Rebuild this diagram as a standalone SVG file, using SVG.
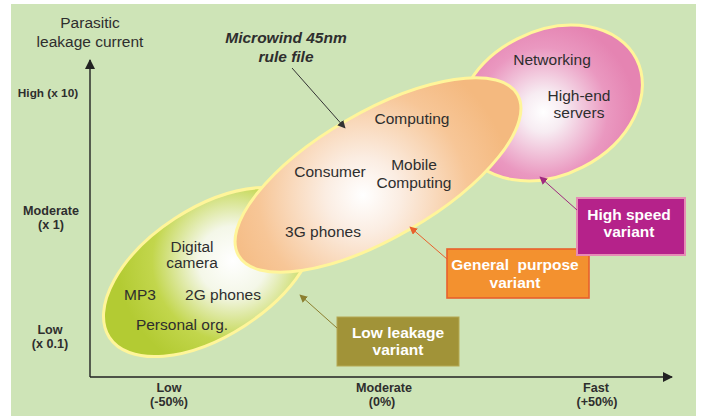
<svg xmlns="http://www.w3.org/2000/svg" width="703" height="416" viewBox="0 0 703 416">
<defs>
<style>
.t{font-family:"Liberation Sans",Arial,sans-serif;font-size:15.5px;fill:#2e2e2e;text-anchor:middle}
.ax{font-family:"Liberation Sans",Arial,sans-serif;font-size:12.6px;font-weight:bold;fill:#2e2e2e;text-anchor:middle}
.bx{font-family:"Liberation Sans",Arial,sans-serif;font-size:15.5px;font-weight:bold;fill:#ffffff;text-anchor:middle}
.el{stroke:#FFF59A;stroke-width:3}
</style>
<radialGradient id="gG" gradientUnits="userSpaceOnUse" cx="235" cy="275" r="115">
<stop offset="0" stop-color="#ffffff"/><stop offset="0.3" stop-color="#f4f7e8"/><stop offset="0.7" stop-color="#c2d64c"/><stop offset="1" stop-color="#b3cb33"/>
</radialGradient>
<radialGradient id="gO" gradientUnits="userSpaceOnUse" cx="355" cy="185" r="150">
<stop offset="0" stop-color="#ffffff"/><stop offset="0.25" stop-color="#fbede2"/><stop offset="0.7" stop-color="#f7c697"/><stop offset="1" stop-color="#f4b97f"/>
</radialGradient>
<radialGradient id="gP" gradientUnits="userSpaceOnUse" cx="540" cy="108" r="92">
<stop offset="0" stop-color="#ffffff"/><stop offset="0.22" stop-color="#f7ecf2"/><stop offset="0.7" stop-color="#ea98c0"/><stop offset="1" stop-color="#e584b2"/>
</radialGradient>
<marker id="ahK" viewBox="0 0 10 10" refX="9" refY="5" markerWidth="8" markerHeight="8" markerUnits="userSpaceOnUse" orient="auto"><path d="M0,0 L10,5 L0,10 z" fill="#333"/></marker>
<marker id="ahA" viewBox="0 0 10 10" refX="9" refY="5" markerWidth="10" markerHeight="10" markerUnits="userSpaceOnUse" orient="auto"><path d="M0,0 L10,5 L0,10 z" fill="#222"/></marker>
<marker id="ahOl" viewBox="0 0 10 10" refX="9" refY="5" markerWidth="8" markerHeight="8" markerUnits="userSpaceOnUse" orient="auto"><path d="M0,0 L10,5 L0,10 z" fill="#8c7f30"/></marker>
<marker id="ahOr" viewBox="0 0 10 10" refX="9" refY="5" markerWidth="8" markerHeight="8" markerUnits="userSpaceOnUse" orient="auto"><path d="M0,0 L10,5 L0,10 z" fill="#e8602c"/></marker>
<marker id="ahPu" viewBox="0 0 10 10" refX="9" refY="5" markerWidth="8" markerHeight="8" markerUnits="userSpaceOnUse" orient="auto"><path d="M0,0 L10,5 L0,10 z" fill="#a0297f"/></marker>
</defs>
<rect x="11" y="4" width="685" height="412" fill="#CEE4B7"/>

<g id="axes">
<line x1="90" y1="377" x2="90" y2="60" stroke="#222" stroke-width="1.4" marker-end="url(#ahA)"/>
<line x1="90" y1="377" x2="672" y2="377" stroke="#222" stroke-width="1.4" marker-end="url(#ahA)"/>
<text class="t" x="90" y="28">Parasitic</text>
<text class="t" x="90" y="47">leakage current</text>
<text class="ax" x="48" y="97" style="font-size:11.8px">High (x 10)</text>
<text class="ax" x="51" y="215">Moderate</text>
<text class="ax" x="51" y="229">(x 1)</text>
<text class="ax" x="50" y="334">Low</text>
<text class="ax" x="50" y="348">(x 0.1)</text>
<text class="ax" x="169" y="392">Low</text>
<text class="ax" x="169" y="406">(-50%)</text>
<text class="ax" x="384" y="392">Moderate</text>
<text class="ax" x="382" y="406">(0%)</text>
<text class="ax" x="596" y="392">Fast</text>
<text class="ax" x="597" y="406">(+50%)</text>
</g>

<g id="high-speed">
<ellipse class="el" cx="550" cy="103" rx="97" ry="72" transform="rotate(-27 550 103)" fill="url(#gP)"/>
<text class="t" x="552" y="65">Networking</text>
<text class="t" x="579" y="101">High-end</text>
<text class="t" x="579" y="118">servers</text>
</g>

<g id="low-leakage">
<ellipse class="el" cx="210" cy="272" rx="120" ry="64" transform="rotate(-33 210 272)" fill="url(#gG)"/>
<text class="t" x="192" y="252">Digital</text>
<text class="t" x="192" y="268">camera</text>
<text class="t" x="140" y="300">MP3</text>
<text class="t" x="223" y="300">2G phones</text>
<text class="t" x="182" y="330">Personal org.</text>
</g>

<g id="general-purpose">
<ellipse class="el" cx="378" cy="175" rx="161" ry="63" transform="rotate(-30 378 175)" fill="url(#gO)"/>
<text class="t" x="412" y="124">Computing</text>
<text class="t" x="330" y="177">Consumer</text>
<text class="t" x="414" y="170">Mobile</text>
<text class="t" x="414" y="188">Computing</text>
<text class="t" x="323" y="237">3G phones</text>
</g>

<g id="microwind-label">
<text class="t" x="286" y="43" style="font-weight:bold;font-style:italic">Microwind 45nm</text>
<text class="t" x="286" y="62" style="font-weight:bold;font-style:italic">rule file</text>
</g>

<g id="box-low">
<rect x="337" y="317" width="122" height="49" fill="#A19338" stroke="#b5a852" stroke-width="1"/>
<text class="bx" x="398" y="338">Low leakage</text>
<text class="bx" x="398" y="355">variant</text>
</g>

<g id="box-general">
<rect x="447" y="249" width="142" height="49" fill="#F3912F" stroke="#E8602C" stroke-width="1.6"/>
<text class="bx" x="515" y="270" xml:space="preserve">General  purpose</text>
<text class="bx" x="515" y="288">variant</text>
</g>

<g id="box-high">
<rect x="577" y="198" width="108" height="57" fill="#B5228A" stroke="#E68BB5" stroke-width="2"/>
<text class="bx" x="629" y="220">High speed</text>
<text class="bx" x="629" y="237">variant</text>
</g>

<g id="connectors">
<line x1="292" y1="68" x2="345" y2="128" stroke="#333" stroke-width="1" marker-end="url(#ahK)"/>
<line x1="337" y1="328" x2="300" y2="295" stroke="#8c7f30" stroke-width="1" marker-end="url(#ahOl)"/>
<line x1="447" y1="259" x2="410" y2="227" stroke="#e8602c" stroke-width="1" marker-end="url(#ahOr)"/>
<line x1="577" y1="210" x2="540" y2="177" stroke="#a0297f" stroke-width="1" marker-end="url(#ahPu)"/>
</g>
</svg>
